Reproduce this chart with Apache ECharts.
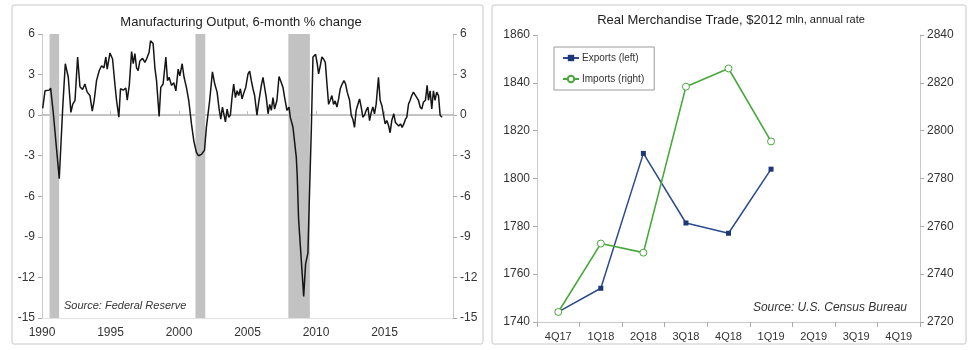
<!DOCTYPE html>
<html>
<head>
<meta charset="utf-8">
<title>Manufacturing Output and Real Merchandise Trade</title>
<script src="https://cdn.jsdelivr.net/npm/echarts@6/dist/echarts.min.js"></script>
<style>
  html, body { margin: 0; padding: 0; background: #fff; }
  #chart { width: 978px; height: 350px; }
</style>
</head>
<body>
<div id="chart"></div>
<script>
// Manufacturing output, 6-month % change (decimal year, value)
const outputYears = [
  1990.05, 1990.22, 1990.53, 1990.63, 1990.83, 1991.07, 1991.26, 1991.51, 1991.70, 1991.92,
  1992.11, 1992.24, 1992.41, 1992.60, 1992.77, 1992.96, 1993.13, 1993.30, 1993.50, 1993.67,
  1993.81, 1993.98, 1994.18, 1994.35, 1994.52, 1994.66, 1994.76, 1994.96, 1995.15, 1995.32,
  1995.44, 1995.61, 1995.73, 1995.93, 1996.12, 1996.22, 1996.37, 1996.54, 1996.66, 1996.78,
  1996.90, 1997.02, 1997.14, 1997.34, 1997.51, 1997.63, 1997.82, 1997.92, 1998.11, 1998.24,
  1998.36, 1998.55, 1998.67, 1998.84, 1999.04, 1999.16, 1999.28, 1999.45, 1999.62, 1999.77,
  1999.94, 2000.06, 2000.23, 2000.37, 2000.54, 2000.71, 2000.91, 2001.08, 2001.27, 2001.42,
  2001.64, 2001.76, 2001.86, 2002.00, 2002.24, 2002.44, 2002.61, 2002.78, 2002.93, 2003.05,
  2003.17, 2003.29, 2003.39, 2003.51, 2003.63, 2003.75, 2003.87, 2003.99, 2004.12, 2004.24,
  2004.36, 2004.48, 2004.60, 2004.75, 2004.87, 2005.04, 2005.16, 2005.28, 2005.40, 2005.52,
  2005.69, 2005.84, 2006.01, 2006.13, 2006.25, 2006.37, 2006.50, 2006.62, 2006.74, 2006.86,
  2006.98, 2007.15, 2007.30, 2007.47, 2007.59, 2007.71, 2007.88, 2008.03, 2008.12, 2008.32,
  2008.56, 2008.63, 2008.73, 2009.10, 2009.24, 2009.41, 2009.52, 2009.66, 2009.78, 2009.97,
  2010.09, 2010.19, 2010.31, 2010.43, 2010.55, 2010.68, 2010.80, 2010.92, 2011.04, 2011.16,
  2011.28, 2011.40, 2011.53, 2011.65, 2011.77, 2011.91, 2012.04, 2012.16, 2012.28, 2012.45,
  2012.57, 2012.69, 2012.81, 2012.93, 2013.06, 2013.18, 2013.30, 2013.42, 2013.54, 2013.66,
  2013.79, 2013.91, 2014.03, 2014.15, 2014.27, 2014.39, 2014.56, 2014.68, 2014.81, 2014.93,
  2015.05, 2015.17, 2015.29, 2015.41, 2015.53, 2015.68, 2015.80, 2015.92, 2016.04, 2016.17,
  2016.29, 2016.41, 2016.53, 2016.63, 2016.75, 2016.87, 2016.99, 2017.11, 2017.24, 2017.36,
  2017.48, 2017.60, 2017.72, 2017.84, 2017.99, 2018.11, 2018.21, 2018.33, 2018.45, 2018.57,
  2018.69, 2018.81, 2018.94, 2019.06, 2019.20
];
const outputValues = [
  0.5, 1.8, 1.85, 2.0, 0.1, -2.6, -4.7, 0.5, 3.8, 2.8,
  0.2, 0.8, 1.1, 4.3, 2.1, 1.9, 2.3, 1.7, 1.45, 0.3,
  1.1, 2.55, 3.3, 3.65, 3.5, 4.3, 3.4, 4.6, 4.15, 2.3,
  1.1, -0.15, 1.95, 1.85, 2.0, 1.1, 2.2, 4.7, 3.8, 4.55,
  3.5, 3.3, 4.0, 4.2, 3.9, 4.15, 4.65, 5.5, 5.3, 3.5,
  2.55, -0.1, 2.05, 2.3, 4.3, 2.55, 2.8, 2.2, 2.4, 1.8,
  3.4, 2.9, 3.8, 2.8, 2.05, 1.1, -0.65, -1.9, -2.75, -3.0,
  -2.9, -3.0, -2.6, -0.9, 1.1, 3.2, 2.3, 1.7, 0.45, -0.3,
  0.6, 0.0, -0.5, 0.45, -0.15, 0.0, 1.3, 2.3, 1.3, 1.8,
  1.45, 1.95, 1.2, 1.7, 2.05, 3.05, 3.25, 2.55, 1.95, 1.45,
  0.0, 1.1, 2.2, 2.8, 2.9, 1.3, 0.1, 0.8, 0.35, 1.3,
  0.45, 1.1, 2.85, 2.4, 2.05, 1.3, 0.35, 0.6, -0.15, -0.9,
  -3.1, -4.5, -7.7, -13.4, -11.0, -10.2, -6.0, -1.0, 4.3, 4.5,
  3.8, 3.05, 3.65, 4.3, 4.15, 3.9, 2.3, 0.8, 1.1, 1.45,
  0.8, 1.05, 0.6, 1.2, 1.95, 2.3, 2.55, 2.3, 1.7, 1.1,
  0.0, -0.3, -0.9, 0.35, 0.8, 1.2, 0.6, -0.15, 0.0, 0.35,
  0.6, -0.4, 0.2, 0.6, 0.1, 0.8, 2.8, 1.1, 0.7, 0.0,
  -0.65, -0.4, -0.75, -1.3, -0.4, 0.1, -0.55, -0.65, -0.8, -0.65,
  -0.9, -0.65, -0.3, -0.15, 0.8, 1.1, 1.45, 1.7, 1.8, 1.3,
  1.1, 0.6, 0.45, 0.95, 1.1, 2.2, 1.1, 1.8, 0.45, 1.8,
  1.1, 1.7, 1.45, 0.0, -0.15
];
// Recession periods (start, end)
const recessions = [[1990.55, 1991.25], [2001.2, 2001.92], [2007.98, 2009.55]];
const outputYearTicks = [1990, 1995, 2000, 2005, 2010, 2015];

// Real merchandise trade, $2012 mln, annual rate
const quarters = ['4Q17', '1Q18', '2Q18', '3Q18', '4Q18', '1Q19', '2Q19', '3Q19', '4Q19'];
const exportsLeft = [1744.2, 1754.1, 1810.5, 1781.4, 1777.1, 1803.9, null, null, null];
const importsRight = [2724.2, 2752.8, 2749.0, 2818.4, 2826.0, 2795.5, null, null, null];

const FONT = '"Liberation Sans", Arial, sans-serif';
const axisGray = '#c9c9c9';
const labelColor = '#333';

const chart = echarts.init(document.getElementById('chart'), null, { renderer: 'canvas' });

const outputData = outputYears.map((y, i) => [y, outputValues[i]]);

function valueAxisY(gridIndex, position, min, max, interval) {
  return {
    type: 'value', gridIndex, position, min, max, interval,
    splitLine: { show: false },
    axisLine: { show: true, onZero: false, lineStyle: { color: axisGray, width: 1 } },
    axisTick: { show: true, length: 4, lineStyle: { color: '#aaa' } },
    axisLabel: {
      color: labelColor, fontFamily: FONT, fontSize: 12, margin: 7,
      formatter: v => String(v)
    }
  };
}

const option = {
  animation: false,
  backgroundColor: '#fff',
  grid: [
    { left: 42, top: 34, width: 411, height: 284 },
    { left: 537, top: 35, width: 383, height: 287 }
  ],
  xAxis: [
    {
      type: 'value', gridIndex: 0, min: 1990, max: 2020, interval: 5,
      splitLine: { show: false },
      axisLine: { show: true, onZero: false, lineStyle: { color: '#e2e2e2' } },
      axisTick: { show: false },
      axisLabel: {
        color: labelColor, fontFamily: FONT, fontSize: 12, margin: 9,
        formatter: v => (outputYearTicks.indexOf(v) >= 0 ? String(v) : '')
      }
    },
    {
      type: 'value', gridIndex: 0, min: 1990, max: 2020, interval: 5, z: 2,
      splitLine: { show: false },
      axisLine: { show: true, onZero: true, lineStyle: { color: '#c4c4c4', width: 2 } },
      axisTick: { show: true, length: 4, lineStyle: { color: '#bbb' } },
      axisLabel: { show: false }
    },
    {
      type: 'category', gridIndex: 1, data: quarters, boundaryGap: true,
      axisLine: { show: true, onZero: false, lineStyle: { color: axisGray } },
      axisTick: { show: true, length: 5, lineStyle: { color: '#aaa' } },
      axisLabel: { color: labelColor, fontFamily: FONT, fontSize: 11, margin: 9 }
    }
  ],
  yAxis: [
    valueAxisY(0, 'left', -15, 6, 3),
    valueAxisY(0, 'right', -15, 6, 3),
    valueAxisY(1, 'left', 1740, 1860, 20),
    valueAxisY(1, 'right', 2720, 2840, 20)
  ],
  legend: {
    left: 554, top: 47, orient: 'vertical',
    data: ['Exports (left)', 'Imports (right)'],
    borderColor: '#9a9a9a', borderWidth: 1,
    padding: [6, 10, 6, 8], itemGap: 11,
    itemWidth: 16, itemHeight: 8,
    textStyle: { fontFamily: FONT, fontSize: 10, color: '#333', padding: [0, 0, 0, -2] }
  },
  series: [
    {
      name: 'recessions', type: 'line', xAxisIndex: 0, yAxisIndex: 0, data: [], z: 1,
      silent: true,
      markArea: {
        silent: true,
        itemStyle: { color: '#c2c2c2' },
        data: recessions.map(r => [{ xAxis: r[0], yAxis: 6 }, { xAxis: r[1], yAxis: -15 }])
      }
    },
    {
      name: 'Manufacturing Output', type: 'line', xAxisIndex: 0, yAxisIndex: 0, z: 3,
      data: outputData, showSymbol: false, symbol: 'none',
      lineStyle: { color: '#151515', width: 1.5 }
    },
    {
      name: 'Exports (left)', type: 'line', xAxisIndex: 2, yAxisIndex: 2, z: 3,
      data: exportsLeft, symbol: 'rect', symbolSize: 5, connectNulls: false,
      itemStyle: { color: '#1c3876' },
      lineStyle: { color: '#2b4b8c', width: 1.5 }
    },
    {
      name: 'Imports (right)', type: 'line', xAxisIndex: 2, yAxisIndex: 3, z: 4,
      data: importsRight, symbol: 'circle', symbolSize: 7, connectNulls: false,
      itemStyle: { color: '#fff', borderColor: '#48a83c', borderWidth: 1 },
      lineStyle: { color: '#48a83c', width: 1.6 }
    }
  ],
  graphic: [
    {
      type: 'rect', silent: true, z: -10,
      shape: { x: 12, y: 5, width: 471, height: 339, r: 2 },
      style: { fill: 'none', stroke: '#c8c8c8', lineWidth: 1 }
    },
    {
      type: 'rect', silent: true, z: -10,
      shape: { x: 492, y: 5, width: 474, height: 339, r: 2 },
      style: { fill: 'none', stroke: '#c8c8c8', lineWidth: 1 }
    },
    {
      type: 'text', x: 241, y: 22, silent: true,
      style: {
        text: 'Manufacturing Output, 6-month % change',
        align: 'center', verticalAlign: 'middle',
        font: '13px ' + FONT, fill: '#222'
      }
    },
    {
      type: 'text', x: 731, y: 20, silent: true,
      style: {
        text: '{a|Real Merchandise Trade, $2012 }{b|mln, annual rate}',
        align: 'center', verticalAlign: 'middle',
        rich: {
          a: { fontFamily: FONT, fontSize: 13, fill: '#222', color: '#222' },
          b: { fontFamily: FONT, fontSize: 11, fill: '#222', color: '#222' }
        }
      }
    },
    {
      type: 'text', x: 64, y: 306, silent: true,
      style: {
        text: 'Source: Federal Reserve',
        align: 'left', verticalAlign: 'middle',
        font: 'italic 11px ' + FONT, fill: '#333'
      }
    },
    {
      type: 'text', x: 907, y: 308, silent: true,
      style: {
        text: 'Source: U.S. Census Bureau',
        align: 'right', verticalAlign: 'middle',
        font: 'italic 12px ' + FONT, fill: '#333'
      }
    }
  ]
};

chart.setOption(option);
</script>
</body>
</html>
